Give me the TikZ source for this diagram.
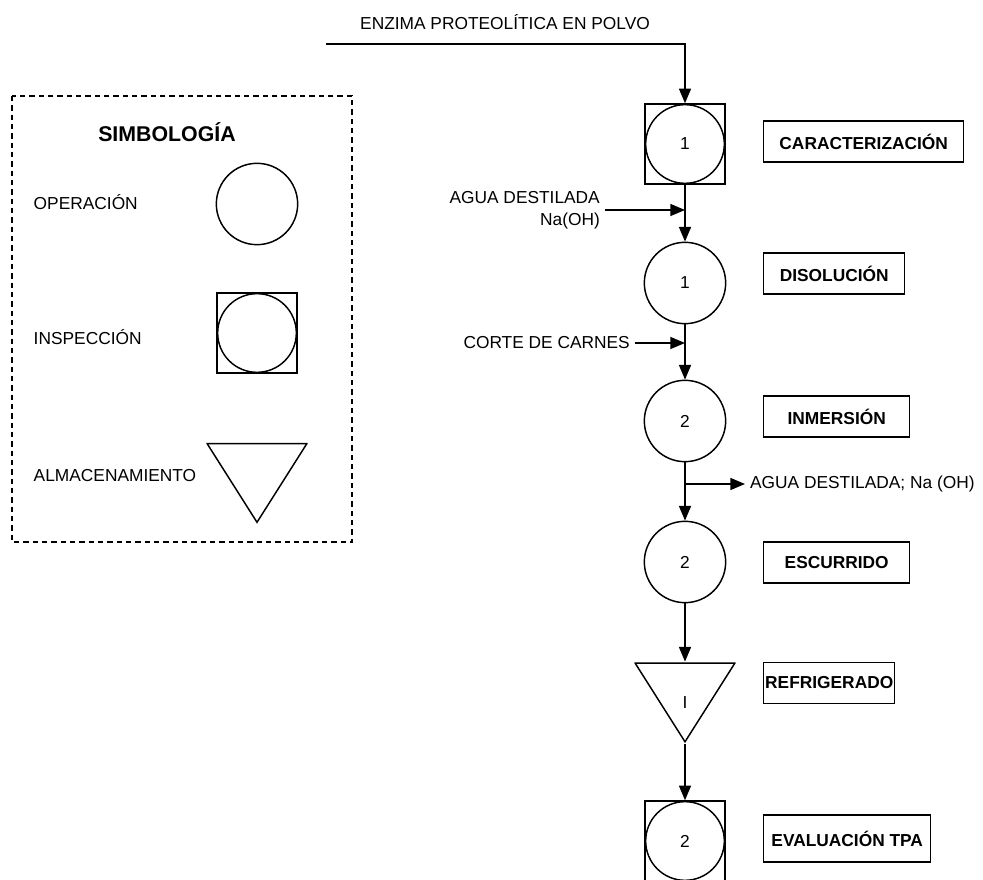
\documentclass[tikz,border=0pt]{standalone}
\usepackage{fontspec}
\setmainfont{Liberation Sans}
\usetikzlibrary{arrows.meta}

\begin{document}
\begin{tikzpicture}[x=0.75pt,y=-0.75pt,line width=1.1pt,
    font=\fontsize{13}{16.5}\selectfont,
    oper/.style={circle,draw,minimum size=61pt,inner sep=0pt},
    insp/.style={rectangle,draw,minimum size=60pt,inner sep=0pt,
      path picture={\draw (path picture bounding box.center) circle (29.5pt);}},
    alma/.style={rectangle,minimum width=76pt,minimum height=61pt,inner sep=0pt,
      path picture={\draw ([xshift=0.6pt,yshift=-0.6pt]path picture bounding box.north west)
        -- ([xshift=-0.6pt,yshift=-0.6pt]path picture bounding box.north east)
        -- ([yshift=1.4pt]path picture bounding box.south) -- cycle;}},
    etapa/.style={draw,anchor=west,font=\fontsize{13}{16.5}\selectfont\bfseries,
      inner xsep=0pt,minimum height=30.75pt},
    leyenda/.style={anchor=west,inner sep=0pt},
    flujo/.style={-{Triangle[length=11pt,width=9pt]}}]
        \useasboundingbox (0,0) rectangle (983,880);
        \draw
        (685,144) node[insp] (c1){1}
        (685,283) node[oper] (c2){1}
        (685,421) node[oper] (c3){2}
        (685,562) node[oper] (c4){2}
        (685,703) node[alma] (r1){I}
        (685,841) node[insp] (c5){2};
        \draw
        (763,141.5) node[etapa,minimum width=150pt] (e1){CARACTERIZACIÓN}
        (763,273.5) node[etapa,minimum width=105.75pt] (e2){DISOLUCIÓN}
        (763,416.5) node[etapa,minimum width=109.5pt] (e3){INMERSIÓN}
        (763,562.5) node[etapa,minimum width=109.5pt] (e4){ESCURRIDO}
        (763,683) node[etapa,minimum width=98.25pt] (e5){REFRIGERADO}
        (763,838.5) node[etapa,minimum width=125.25pt,minimum height=35.25pt] (e6){EVALUACIÓN TPA};
        \draw
        (505,22) node (t1){ENZIMA PROTEOLÍTICA EN POLVO}
        (605,210) node[anchor=east,align=right] (t2){AGUA DESTILADA\\Na(OH)}
        (635,343) node[anchor=east] (t3){CORTE DE CARNES}
        (745,484) node[anchor=west] (t4){AGUA DESTILADA; Na (OH)};
        \coordinate (p0) at (326,44);
        \coordinate (p1) at (685,44);
        \coordinate (j1) at (685,210);
        \coordinate (j2) at (685,343);
        \coordinate (j3) at (685,484);
      \begin{scope}[flujo]
        \draw (p0) -- (p1) -- (c1);
        \draw (c1) -- (c2);
        \draw (t2.east) -- (j1);
        \draw (c2) -- (c3);
        \draw (t3.east) -- (j2);
        \draw (c3) -- (c4);
        \draw (j3) -- (t4.west);
        \draw (c4) -- (r1);
        \draw (r1) -- (c5);
      \end{scope}

        \draw[dash pattern=on 4pt off 3pt,line width=1pt] (12,96) rectangle (352,542);
        \draw
        (167,132) node[font=\fontsize{16}{19}\selectfont\bfseries] (s0){SIMBOLOGÍA}
        (33,202) node[leyenda] (s1){OPERACIÓN}
        (257,204) node[oper] (s2){}
        (33,337) node[leyenda] (s3){INSPECCIÓN}
        (257,333) node[insp] (s4){}
        (33,476) node[leyenda] (s5){ALMACENAMIENTO}
        (257,483.5) node[alma] (s6){};

    \end{tikzpicture}
\end{document}
